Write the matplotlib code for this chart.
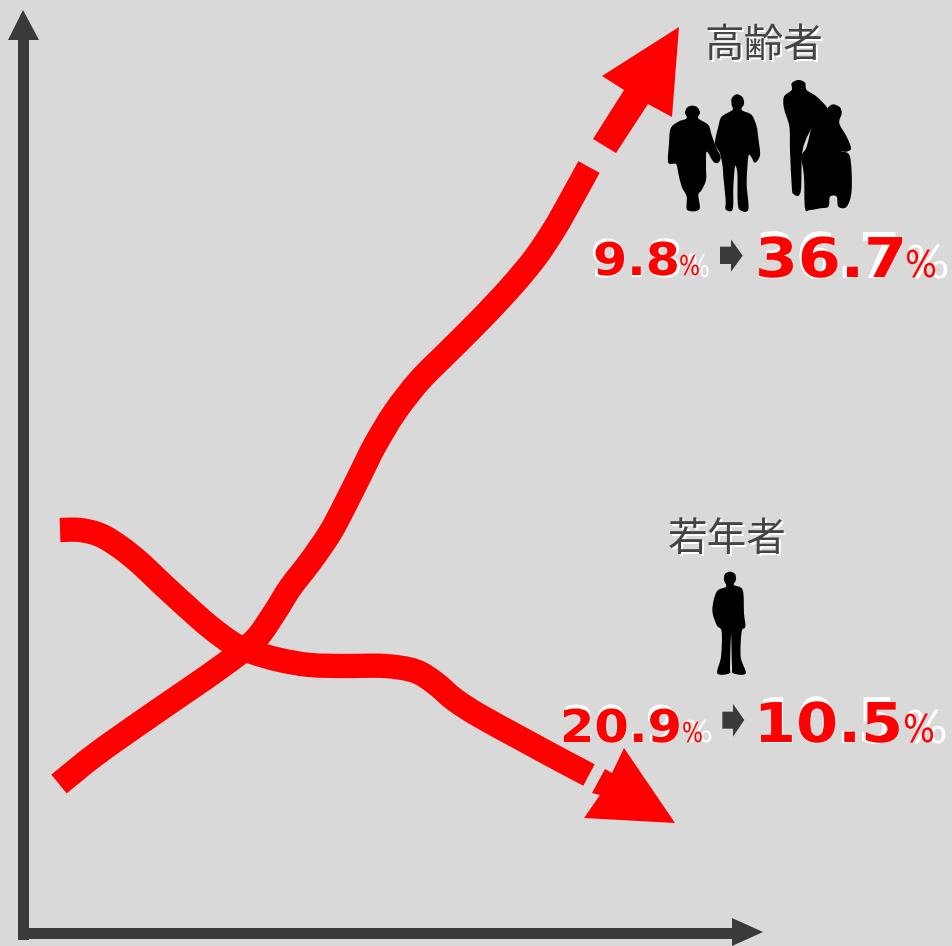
import matplotlib
matplotlib.use("Agg")
import matplotlib.pyplot as plt
from matplotlib.patches import PathPatch, Polygon
from matplotlib.path import Path
from matplotlib.patheffects import AbstractPathEffect
from matplotlib.transforms import Affine2D

W, H = 953, 946
BG = "#d9d9d9"
DARK = "#3a3a3a"
RED = "#ff0000"

# Curves (image pixels)
elderly_x = [59, 95, 140, 185, 225, 255, 275, 290, 310, 330, 345, 360, 375, 395, 420, 450, 480, 510, 535, 555, 572, 589]
elderly_y = [784, 755, 723, 692, 664, 640, 612, 588, 562, 533, 505, 475, 445, 412, 380, 350, 320, 288, 258, 228, 198, 167]
young_x = [60, 80, 100, 120, 140, 160, 185, 210, 235, 255, 280, 310, 345, 385, 415, 435, 455, 480, 520, 555, 589]
young_y = [530, 530, 535, 547, 563, 582, 605, 627, 645, 653, 660, 665, 666, 666, 671, 683, 700, 716, 738, 757, 775]

elderly_head = [(593, 139), (616, 153), (648, 104), (672, 117), (679, 27), (602, 76), (624, 90)]
young_head = [(592, 793), (605, 769), (612, 773), (624, 748), (675, 823), (584, 818), (600, 795)]

y_axis = [(18, 940), (18, 40), (8, 40), (23, 10), (39, 40), (29, 40), (29, 940)]
x_axis = [(18, 939), (18, 928), (732, 928), (732, 918), (763, 932), (732, 946), (732, 939)]

group_labels = ["高齢者", "若年者"]
before_vals = ["9.8", "20.9"]
after_vals = ["36.7", "10.5"]
unit = "%"

# Silhouettes, in crop coordinates (3x) with their crop origin
Z1 = (580, 10)
Z2 = (550, 510)
woman = [(337,287),(352,292),(360,308),(355,325),(385,345),(395,375),(410,415),(422,440),(415,458),(400,455),(380,425),(378,470),(378,510),(365,540),(355,555),(358,598),(322,600),(320,560),(305,530),(295,490),(288,462),(265,458),(267,400),(272,355),(295,335),(320,325),(315,308),(322,292)]
man = [(470,253),(488,262),(492,282),(485,300),(515,315),(530,350),(535,385),(540,435),(525,458),(513,440),(505,440),(500,520),(505,598),(480,600),(473,575),(472,490),(465,470),(460,530),(458,598),(437,598),(437,570),(430,500),(428,470),(420,430),(405,400),(415,350),(425,320),(457,300),(455,285),(455,265)]
carer = [(655,210),(675,218),(680,240),(710,260),(745,300),(728,330),(715,330),(700,345),(668,420),(662,545),(640,552),(635,525),(630,420),(628,350),(612,295),(612,260),(635,240),(635,220)]
rider = [(760,283),(780,292),(785,310),(778,340),(800,380),(813,415),(800,425),(785,425),(810,440),(815,540),(800,590),(775,590),(770,560),(750,560),(745,590),(720,595),(690,600),(675,595),(672,500),(665,440),(680,410),(700,340),(735,320),(742,305),(745,292)]
youth = [(540,185),(555,192),(558,210),(552,225),(578,240),(582,310),(586,350),(575,365),(572,440),(587,490),(550,490),(546,470),(543,370),(540,470),(538,490),(502,490),(513,440),(515,365),(500,345),(487,300),(500,245),(528,230),(522,210),(525,192)]
small_arrow_1 = [(420,710),(453,710),(453,688),(488,737),(453,785),(453,762),(420,762)]
small_arrow_2 = [(517,605),(549,605),(549,582),(583,630),(549,680),(549,656),(517,656)]


def smooth_path(pts, closed=False):
    """Bezier path passing through the given points (Catmull-Rom tangents)."""
    n = len(pts)
    verts, codes = [pts[0]], [Path.MOVETO]
    for i in range(n if closed else n - 1):
        if closed:
            p0, p1, p2, p3 = pts[(i - 1) % n], pts[i], pts[(i + 1) % n], pts[(i + 2) % n]
        else:
            p0, p1, p2, p3 = pts[max(i - 1, 0)], pts[i], pts[i + 1], pts[min(i + 2, n - 1)]
        c1 = (p1[0] + (p2[0] - p0[0]) / 6, p1[1] + (p2[1] - p0[1]) / 6)
        c2 = (p2[0] - (p3[0] - p1[0]) / 6, p2[1] - (p3[1] - p1[1]) / 6)
        verts += [c1, c2, p2]
        codes += [Path.CURVE4] * 3
    return Path(verts, codes)


class Stretch(AbstractPathEffect):
    """Resize text about its left edge horizontally, so it stays real text."""
    def __init__(self, sx, x0):
        super().__init__()
        self.sx, self.x0 = sx, x0

    def draw_path(self, renderer, gc, tpath, affine, rgbFace=None):
        t = affine + Affine2D().translate(-self.x0, 0).scale(self.sx, 1).translate(self.x0, 0)
        renderer.draw_path(gc, tpath, t, rgbFace)


fig = plt.figure(figsize=(W / 100, H / 100), dpi=100, facecolor=BG)
ax = fig.add_axes([0, 0, 1, 1])
ax.set_xlim(0, W)
ax.set_ylim(H, 0)
ax.axis("off")
renderer = fig.canvas.get_renderer()


def wide_text(s, x0, x1, base, digit_h, color, z=5, weight="bold"):
    em_px = digit_h / 0.73
    t = ax.text(x0, base, s, family="DejaVu Sans", weight=weight, fontsize=em_px * 0.72,
                color=color, ha="left", va="baseline", zorder=z)
    ext = t.get_window_extent(renderer)
    sx = (x1 - x0) / ext.width
    px0 = ax.transData.transform((x0, base))[0]
    t.set_path_effects([Stretch(sx, px0)])
    return t


def poly(pts, color, origin=None, z=3):
    if origin is not None:
        pts = [(origin[0] + x / 3, origin[1] + y / 3) for x, y in pts]
    ax.add_patch(Polygon(pts, closed=True, facecolor=color, edgecolor="none", zorder=z))


def blob(pts, color, origin, z=3):
    pts = [(origin[0] + x / 3, origin[1] + y / 3) for x, y in pts]
    ax.add_patch(PathPatch(smooth_path(pts, closed=True), facecolor=color, edgecolor="none", zorder=z))


# Axes arrows
poly(y_axis, DARK)
poly(x_axis, DARK)

# Curves
for xs, ys in ((elderly_x, elderly_y), (young_x, young_y)):
    ax.add_patch(PathPatch(smooth_path(list(zip(xs, ys))), facecolor="none", edgecolor=RED,
                           lw=17.5, capstyle="butt", joinstyle="round", zorder=2))
poly(elderly_head, RED, z=2)
poly(young_head, RED, z=2)

# Silhouettes
for s in (woman, man, carer, rider):
    blob(s, "black", Z1)
blob(youth, "black", Z2)
poly(small_arrow_1, DARK, Z1)
poly(small_arrow_2, DARK, Z2)

# Group titles
for label, x, y in zip(group_labels, (763.5, 727.5), (46, 540)):
    ax.text(x + 2, y + 2, label, family="Noto Sans CJK JP", fontsize=28.5, color="white",
            ha="center", va="center", zorder=4)
    ax.text(x, y, label, family="Noto Sans CJK JP", fontsize=28.5, color="#444444",
            ha="center", va="center", zorder=5)

# Value labels: white copy beneath, red copy above
wide_text(before_vals[0], 590, 683, 277, 38, "white", 4)
wide_text(unit, 687, 710, 277, 23, "white", 4, "normal")
wide_text(after_vals[0], 755, 900, 278, 46, "white", 4)
wide_text(unit, 905, 950, 278, 33, "white", 4, "normal")
wide_text(before_vals[1], 562, 678, 742, 37, "white", 4)
wide_text(unit, 683, 713, 742, 22, "white", 4, "normal")
wide_text(after_vals[1], 757, 897, 743, 46, "white", 4)
wide_text(unit, 905, 948, 743, 33, "white", 4, "normal")

wide_text(before_vals[0], 593, 680, 275, 33, RED)
wide_text(unit, 679, 700, 275, 20, RED, 5, "normal")
wide_text(after_vals[0], 755, 907, 277, 40, RED)
wide_text(unit, 905, 937, 277, 27, RED, 5, "normal")
wide_text(before_vals[1], 560, 682, 742, 33, RED)
wide_text(unit, 682, 703, 742, 20, RED, 5, "normal")
wide_text(after_vals[1], 754, 903, 742, 40, RED)
wide_text(unit, 903, 935, 742, 28, RED, 5, "normal")

fig.savefig("out.png", dpi=100, facecolor=BG)
